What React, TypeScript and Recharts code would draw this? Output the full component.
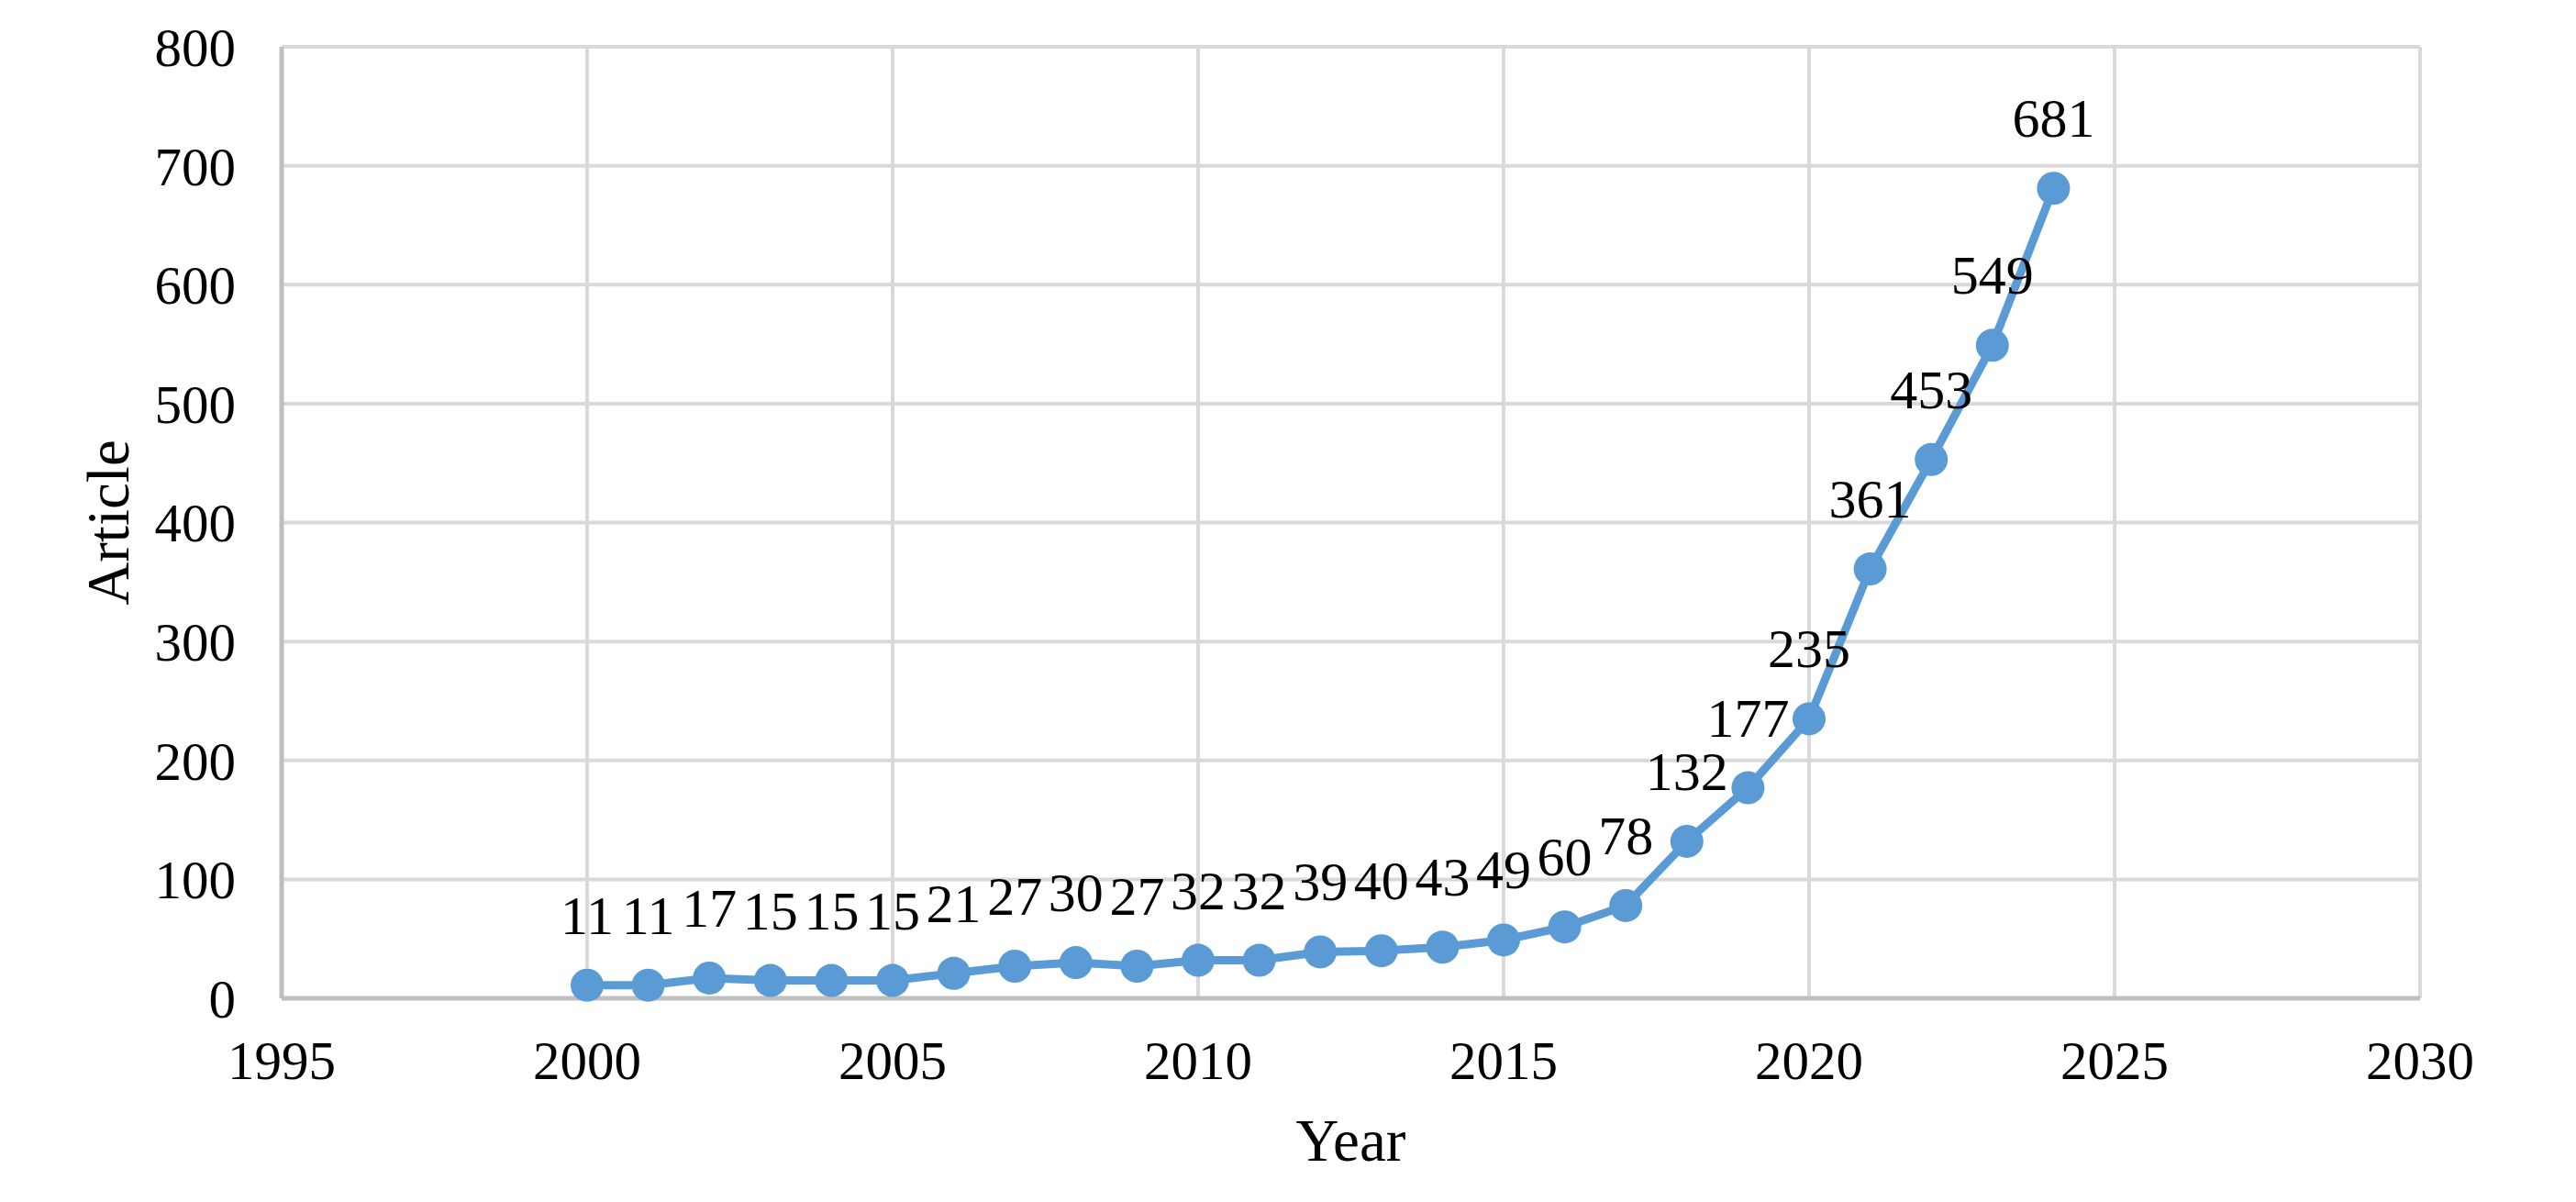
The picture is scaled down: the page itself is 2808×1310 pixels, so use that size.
import { LineChart, Line, XAxis, YAxis, CartesianGrid, LabelList, Label } from "recharts";

const years = [
  2000, 2001, 2002, 2003, 2004, 2005, 2006, 2007, 2008, 2009, 2010, 2011, 2012,
  2013, 2014, 2015, 2016, 2017, 2018, 2019, 2020, 2021, 2022, 2023, 2024,
];
const articles = [
  11, 11, 17, 15, 15, 15, 21, 27, 30, 27, 32, 32, 39, 40, 43, 49, 60, 78, 132,
  177, 235, 361, 453, 549, 681,
];
const xTicks = [1995, 2000, 2005, 2010, 2015, 2020, 2025, 2030];
const yTicks = [0, 100, 200, 300, 400, 500, 600, 700, 800];

const FONT = "'Liberation Serif', 'Times New Roman', serif";
const BLUE = "#5B9BD5";

const data = years.map((year, i) => ({ year, article: articles[i] }));

// value label above each point (Excel style)
function PointLabel(props: any) {
  const { x, y, value } = props;
  return (
    <text x={x} y={y - 56} textAnchor="middle" fontFamily={FONT} fontSize={60} fill="#000">
      {value}
    </text>
  );
}

function XTitle(props: any) {
  const { x, y, width } = props.viewBox;
  return (
    <text x={x + width / 2} y={y + 177} textAnchor="middle" fontFamily={FONT} fontSize={65} fill="#000">
      Year
    </text>
  );
}

function YTitle(props: any) {
  const { x, y, height } = props.viewBox;
  const cx = x + 33;
  const cy = y + height / 2;
  return (
    <text
      x={cx}
      y={cy}
      transform={`rotate(-90, ${cx}, ${cy})`}
      textAnchor="middle"
      fontFamily={FONT}
      fontSize={65}
      fill="#000"
    >
      Article
    </text>
  );
}

export default function App() {
  return (
    <div style={{ width: 2800, height: 1300, background: "#fff" }}>
      <LineChart
        width={2800}
        height={1300}
        data={data}
        margin={{ top: 43, right: 170, bottom: 120, left: 99 }}
      >
        <CartesianGrid stroke="#d9d9d9" strokeWidth={4} />
        <XAxis
          dataKey="year"
          type="number"
          domain={[1995, 2030]}
          ticks={xTicks}
          height={100}
          tickLine={false}
          tickMargin={40}
          axisLine={{ stroke: "#bfbfbf", strokeWidth: 5 }}
          tick={{ fontFamily: FONT, fontSize: 59, fill: "#000" }}
          interval={0}
        >
          <Label content={<XTitle />} />
        </XAxis>
        <YAxis
          type="number"
          domain={[0, 800]}
          ticks={yTicks}
          width={200}
          tickLine={false}
          tickMargin={44}
          axisLine={{ stroke: "#bfbfbf", strokeWidth: 5 }}
          tick={{ fontFamily: FONT, fontSize: 59, fill: "#000" }}
          interval={0}
        >
          <Label content={<YTitle />} />
        </YAxis>
        <Line
          type="linear"
          dataKey="article"
          stroke={BLUE}
          strokeWidth={9}
          dot={{ r: 18, fill: BLUE, stroke: BLUE, strokeWidth: 0 }}
          activeDot={false}
          isAnimationActive={false}
        >
          <LabelList dataKey="article" content={<PointLabel />} />
        </Line>
      </LineChart>
    </div>
  );
}
